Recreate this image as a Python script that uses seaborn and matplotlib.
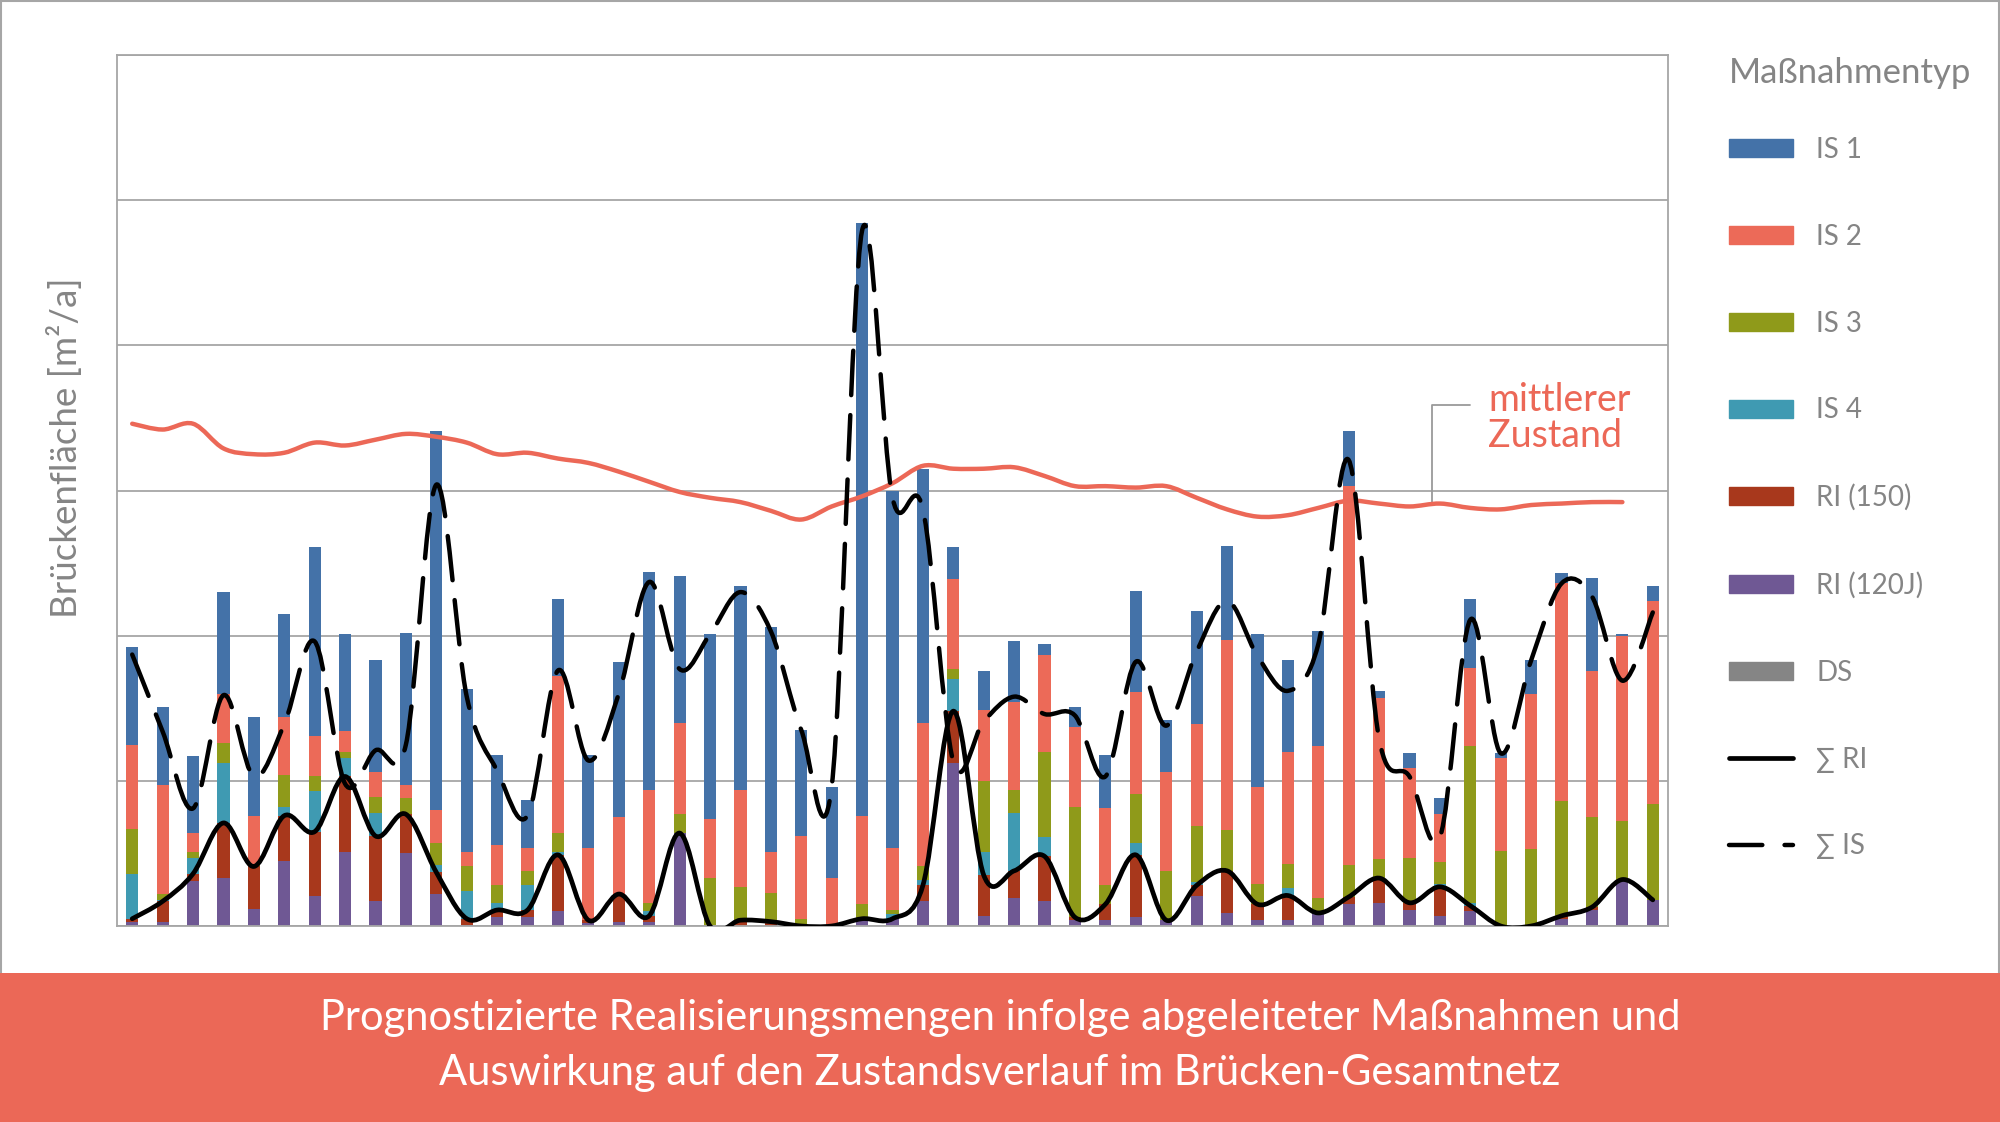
import numpy as np
import matplotlib
matplotlib.use("Agg")
import matplotlib.pyplot as plt
import seaborn as sns
from matplotlib.path import Path
from matplotlib.patches import PathPatch, Patch, Rectangle
from matplotlib.lines import Line2D

# ---- data (units: one gridline step) ----
years = list(range(51))

ri120 = [0.03, 0.03, 0.31, 0.33, 0.12, 0.45, 0.21, 0.51, 0.17, 0.50,
         0.22, 0.01, 0.06, 0.06, 0.10, 0.02, 0.03, 0.03, 0.64, 0.00,
         0.00, 0.00, 0.00, 0.00, 0.05, 0.05, 0.17, 1.12, 0.07, 0.19,
         0.17, 0.04, 0.04, 0.06, 0.04, 0.21, 0.09, 0.04, 0.04, 0.09,
         0.15, 0.16, 0.11, 0.07, 0.10, 0.00, 0.00, 0.05, 0.11, 0.32, 0.18]
ri150 = [0.02, 0.14, 0.05, 0.38, 0.29, 0.31, 0.44, 0.52, 0.45, 0.27,
         0.15, 0.04, 0.05, 0.05, 0.39, 0.02, 0.19, 0.04, 0.00, 0.00,
         0.04, 0.03, 0.00, 0.00, 0.00, 0.00, 0.11, 0.36, 0.28, 0.19,
         0.31, 0.02, 0.11, 0.43, 0.00, 0.07, 0.29, 0.11, 0.17, 0.00,
         0.05, 0.17, 0.05, 0.20, 0.04, 0.00, 0.00, 0.02, 0.02, 0.00, 0.00]
is4 = [0.31, 0.01, 0.11, 0.41, 0.00, 0.06, 0.28, 0.13, 0.16, 0.00,
       0.05, 0.19, 0.05, 0.17, 0.02, 0.00, 0.00, 0.03, 0.00, 0.00,
       0.00, 0.00, 0.00, 0.00, 0.00, 0.03, 0.04, 0.22, 0.16, 0.40,
       0.13, 0.00, 0.00, 0.08, 0.00, 0.02, 0.00, 0.00, 0.05, 0.00,
       0.00, 0.00, 0.00, 0.02, 0.02, 0.00, 0.00, 0.00, 0.00, 0.00, 0.00]
is3 = [0.31, 0.04, 0.04, 0.14, 0.02, 0.22, 0.10, 0.04, 0.11, 0.11,
       0.15, 0.17, 0.12, 0.10, 0.13, 0.00, 0.00, 0.06, 0.13, 0.33,
       0.23, 0.20, 0.05, 0.00, 0.10, 0.03, 0.09, 0.07, 0.49, 0.16,
       0.59, 0.76, 0.13, 0.34, 0.34, 0.39, 0.28, 0.14, 0.17, 0.10,
       0.22, 0.13, 0.31, 0.15, 1.08, 0.52, 0.53, 0.79, 0.62, 0.40, 0.66]
is2 = [0.58, 0.75, 0.13, 0.34, 0.33, 0.40, 0.28, 0.14, 0.17, 0.09,
       0.23, 0.10, 0.28, 0.16, 1.08, 0.50, 0.53, 0.78, 0.63, 0.41,
       0.67, 0.28, 0.57, 0.33, 0.61, 0.43, 0.99, 0.62, 0.49, 0.60,
       0.67, 0.55, 0.53, 0.70, 0.68, 0.70, 1.31, 0.67, 0.77, 1.05,
       2.61, 1.11, 0.62, 0.33, 0.54, 0.64, 1.07, 1.50, 1.01, 1.28, 1.40]
is1 = [0.67, 0.54, 0.53, 0.70, 0.68, 0.71, 1.30, 0.67, 0.77, 1.05,
       2.61, 1.12, 0.62, 0.33, 0.53, 0.64, 1.07, 1.50, 1.01, 1.27,
       1.40, 1.55, 0.73, 0.63, 4.08, 2.46, 1.75, 0.22, 0.27, 0.42,
       0.07, 0.14, 0.37, 0.70, 0.36, 0.78, 0.65, 1.05, 0.63, 0.79,
       0.38, 0.05, 0.10, 0.11, 0.47, 0.03, 0.23, 0.07, 0.64, 0.01, 0.10]

# mittlerer Zustand (drawn up to the 50th year)
zustand = [3.46, 3.42, 3.46, 3.29, 3.25, 3.26, 3.33, 3.31, 3.35, 3.39,
           3.37, 3.33, 3.25, 3.26, 3.22, 3.19, 3.13, 3.06, 2.99, 2.95,
           2.92, 2.86, 2.80, 2.89, 2.96, 3.05, 3.17, 3.15, 3.15, 3.16,
           3.10, 3.03, 3.03, 3.02, 3.03, 2.95, 2.87, 2.82, 2.83, 2.88,
           2.93, 2.91, 2.89, 2.91, 2.88, 2.87, 2.90, 2.91, 2.92, 2.92]

labels = ["RI (120J)", "RI (150)", "IS 4", "IS 3", "IS 2", "IS 1"]
colors = ["#6F5894", "#A8381C", "#3F9AB2", "#8F9A1A", "#EC6A58", "#4472A8"]
ds_color = "#858585"
red = "#EC6857"
grey_txt = "#858585"

# ---- helpers ----
def smooth_path(x, y):
    # Excel-like smoothed line: cubic Bezier through the points
    n = len(x)
    verts = [(x[0], y[0])]
    codes = [Path.MOVETO]
    for i in range(n - 1):
        a = max(i - 1, 0)
        b = min(i + 2, n - 1)
        c1 = (x[i] + (x[i + 1] - x[a]) / 6, y[i] + (y[i + 1] - y[a]) / 6)
        c2 = (x[i + 1] - (x[b] - x[i]) / 6, y[i + 1] - (y[b] - y[i]) / 6)
        verts += [c1, c2, (x[i + 1], y[i + 1])]
        codes += [Path.CURVE4] * 3
    return Path(verts, codes)

# ---- figure ----
sns.set_theme(style="white")
plt.rcParams["font.family"] = ["Lato", "DejaVu Sans"]

fig = plt.figure(figsize=(20, 11.22), dpi=100)
ax = fig.add_axes([117 / 2000, 1 - 926 / 1122, 1551 / 2000, 871 / 1122])

stack = np.array([ri120, ri150, is4, is3, is2, is1])
cum = np.cumsum(stack, axis=0)
for k in range(len(labels) - 1, -1, -1):
    sns.barplot(x=years, y=cum[k], color=colors[k], width=0.4, saturation=1,
                linewidth=0, errorbar=None, ax=ax, zorder=2)

sum_ri = stack[0] + stack[1]
sum_is = stack[2:].sum(axis=0)
xs = np.array(years, dtype=float)

ax.add_patch(PathPatch(smooth_path(xs, sum_ri), fill=False, edgecolor="black",
                       lw=3.4, capstyle="round", joinstyle="round", zorder=4))
ax.add_patch(PathPatch(smooth_path(xs, sum_is), fill=False, edgecolor="black",
                       lw=3.2, linestyle=(0, (10, 4.5)), capstyle="round",
                       joinstyle="round", zorder=4))
ax.add_patch(PathPatch(smooth_path(xs[:len(zustand)], np.array(zustand)), fill=False,
                       edgecolor=red, lw=3.2, capstyle="round", zorder=3))

# annotation for the condition line
lead_x = 42.73
ax.plot([lead_x, lead_x, 44.0], [zustand[43], 3.59, 3.59], color="#9a9a9a", lw=1.3, zorder=1)
ax.text(44.58, 3.50, "mittlerer\nZustand", color=red, fontsize=27,
        ha="left", va="center", linespacing=1.0)

ax.set_xlim(-0.5, 50.5)
ax.set_ylim(0, 6)
ax.set_yticks(range(7))
ax.set_yticklabels([])
ax.set_xticks([])
ax.set_xlabel("")
ax.set_ylabel("")
ax.tick_params(length=0)
ax.grid(axis="y", color="#a6a6a6", lw=1.3)
ax.set_axisbelow(True)
for s in ax.spines.values():
    s.set_color("#a6a6a6")
    s.set_linewidth(1.3)
    s.set_visible(True)

fig.text(65 / 2000, 1 - 448 / 1122, "Brückenfläche [m²/a]", rotation=90,
         ha="center", va="center", fontsize=26.5, color=grey_txt)

# legend
fig.text(1729 / 2000, 1 - 73 / 1122, "Maßnahmentyp", ha="left", va="center",
         fontsize=25, color=grey_txt)
handles = [Patch(color=colors[k]) for k in range(5, -1, -1)]
handles += [Patch(color=ds_color),
            Line2D([], [], color="black", lw=3.4),
            Line2D([], [], color="black", lw=3.2, dashes=(7.5, 5), dash_capstyle="round")]
leg_labels = [labels[k] for k in range(5, -1, -1)] + ["DS", "∑ RI", "∑ IS"]
leg = fig.legend(handles, leg_labels, loc="upper left",
                 bbox_to_anchor=(1729 / 2000, 1 - 137 / 1122), frameon=False,
                 fontsize=20, labelspacing=2.19,
                 handlelength=2.3, handleheight=0.62, handletextpad=0.85,
                 borderpad=0, borderaxespad=0)
for t in leg.get_texts():
    t.set_color(grey_txt)

# outer frame and bottom banner
fig.patches.append(Rectangle((0.0005, 0.13), 0.999, 0.8695, transform=fig.transFigure,
                             fill=False, edgecolor="#a6a6a6", lw=1.5))
fig.patches.append(Rectangle((0, 0), 1, 1 - 973 / 1122, transform=fig.transFigure,
                             facecolor="#EB6857", edgecolor="none"))
fig.text(0.5, 1 - 1018 / 1122, "Prognostizierte Realisierungsmengen infolge abgeleiteter Maßnahmen und",
         ha="center", va="center", color="white", fontsize=30)
fig.text(0.5, 1 - 1073 / 1122, "Auswirkung auf den Zustandsverlauf im Brücken-Gesamtnetz",
         ha="center", va="center", color="white", fontsize=30)

fig.savefig("out.png", dpi=100, facecolor="white")
